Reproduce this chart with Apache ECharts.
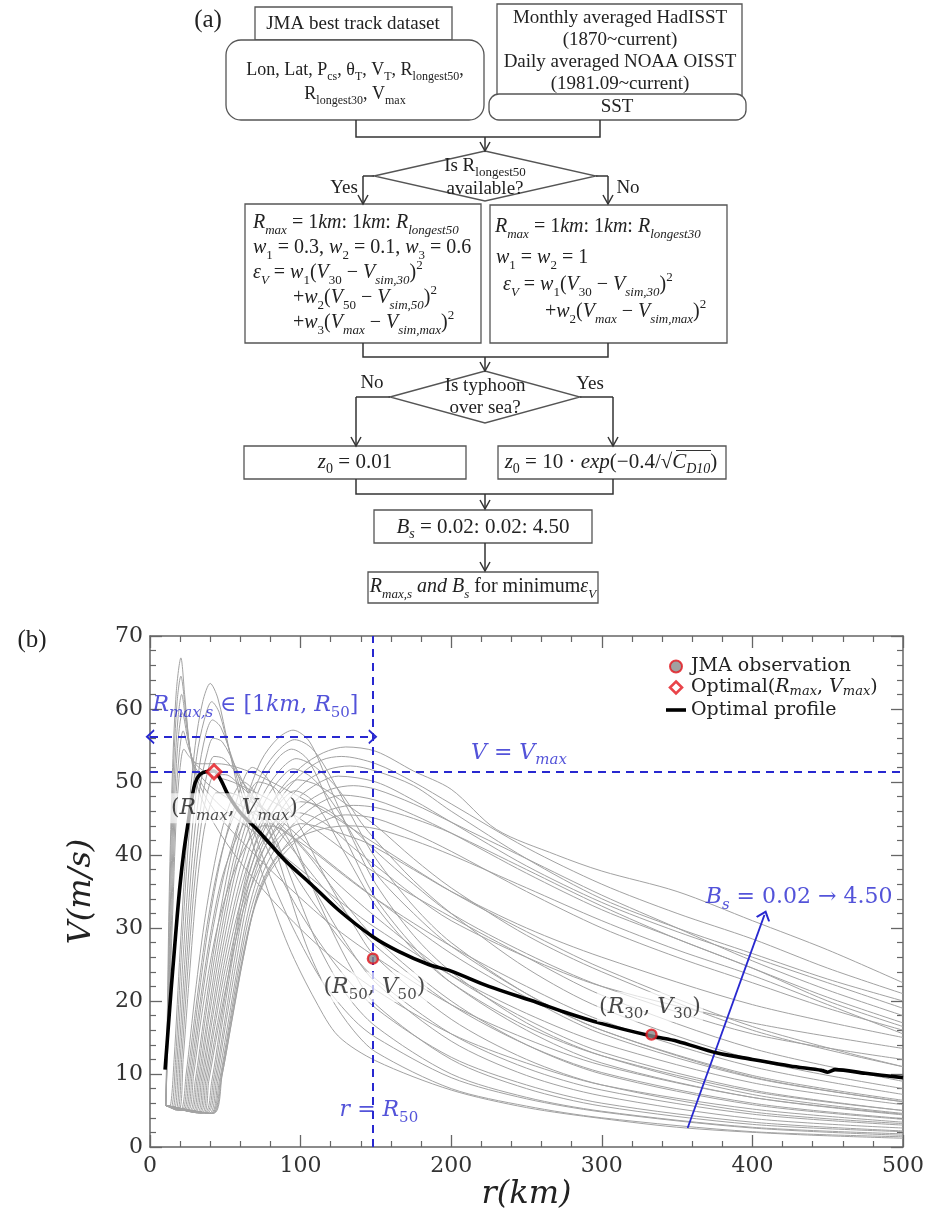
<!DOCTYPE html>
<html><head><meta charset="utf-8">
<script src="https://cdn.jsdelivr.net/npm/echarts@6/dist/echarts.min.js"></script>
<style>html,body{margin:0;padding:0;background:#fff}#c{width:927px;height:1214px}</style>
</head><body><div id="c"></div>
<script>
// ---------------- DATA ----------------
const rTicks = [0, 100, 200, 300, 400, 500];
const vTicks = [0, 10, 20, 30, 40, 50, 60, 70];

// Simulated profiles (r km, V m/s), grouped by Rmax family
const famA = [
 [[10.5,5.7],[11.5,18],[12.8,35],[15,52],[17.5,62.5],[20.5,67],[23,62],[26.5,54.5],[32,49],[42,44.5],[60,39],[85,33],[115,27],[150,21.5],[200,15.5],[250,11.5],[300,8.5],[400,5.2],[500,3.4]],
 [[10.5,5.7],[11.7,18],[13.1,34],[15.4,51],[18,61],[20.5,64.5],[23.5,60],[27,54],[33,49.5],[45,45.5],[65,41],[90,36],[120,30.5],[150,26],[200,19.5],[250,14.8],[300,11.2],[400,6.8],[500,4.5]],
 [[10.5,5.7],[11.9,18],[13.5,33],[16,50],[18.5,58.5],[21,62],[24,58],[28,53],[35,49.5],[48,46.5],[70,43],[100,38],[130,33],[150,30],[200,23.5],[250,18.3],[300,14.2],[400,8.8],[500,5.8]],
 [[10.5,5.7],[12.1,18],[13.9,32],[16.5,48.5],[19,56.5],[21.5,59.5],[24.5,56.5],[29,52.5],[37,50],[50,48],[75,45],[105,41],[130,37],[150,34],[200,27.5],[250,22],[300,17.3],[400,11],[500,7.2]],
 [[10.5,5.7],[12.3,18],[14.3,31],[17,47],[19.5,54],[22,57],[25,55],[30,52.5],[40,51],[55,50],[80,47.5],[110,43.5],[150,37.5],[200,31.5],[250,26],[300,20.8],[400,13.5],[500,9]],
 [[10.5,5.7],[12.5,18],[14.7,30],[17.5,45.5],[20,52],[22.5,54.5],[26,53.5],[32,52.5],[45,52.5],[65,51.5],[90,49],[120,45.5],[150,41.5],[200,35],[250,29.5],[300,24.5],[400,16.5],[500,11]]
];
const famB = [
 [[10.5,5.7],[13,5.5],[16,12],[20,27],[25,44],[30,55],[35,61],[40,63.5],[45,61.5],[52,55],[62,46],[76,36.5],[92,27.5],[110,20],[125,15.2],[150,11.8],[200,7.8],[250,5.4],[300,3.9],[356,2.6],[430,1.7],[500,1.2]],
 [[10.5,5.7],[14,5.4],[17,12],[21,27],[26,43],[31,53.5],[36,58.5],[41,61],[46,59.5],[53,54],[63,47],[78,38],[95,30],[115,22.5],[135,17.5],[150,15],[200,9.5],[250,6.6],[300,4.8],[400,2.6],[500,1.6]],
 [[10.5,5.7],[15,5.3],[18,12],[22,26],[27,41],[32,51],[37,56.5],[41.5,58.5],[47,57.5],[55,53],[66,46.5],[82,39],[100,32],[125,24.5],[150,19],[200,12.3],[250,8.5],[300,6],[400,3.4],[500,2.2]],
 [[10.5,5.7],[16,5.2],[19,12],[23,25],[28,39.5],[33,49],[38,54],[42,56],[48,55.5],[57,52],[70,46.5],[88,40],[110,33],[130,27.5],[150,23],[200,15.5],[250,10.8],[300,7.8],[400,4.5],[500,3]],
 [[10.5,5.7],[17,5.1],[20,12],[24,24.5],[29,38],[34,47],[39,52],[42.5,53.5],[49,53.2],[58,51],[72,47],[92,41.5],[115,35.5],[135,31],[150,27.5],[200,19.5],[250,14],[300,10.2],[400,6],[500,3.9]],
 [[10.5,5.7],[18,5],[21,12],[25,24],[30,37],[35,45.5],[40,50],[43,51],[50,51],[60,49.5],[75,46.5],[95,42.5],[120,37],[150,31.5],[200,23.5],[250,17.5],[300,13],[400,7.8],[500,5]],
 [[10.5,5.7],[19,5],[22,12],[26,23],[31,35.5],[36,43.5],[41,47.5],[44,48.5],[52,48.5],[65,47.5],[85,45],[110,40.5],[150,34],[200,26.5],[250,20.5],[300,15.5],[400,9.5],[500,6.2]]
];
const famM = [
 [[10.5,5.7],[20,5],[24,10],[30,21],[37,32],[45,41],[53,47],[62,50],[70,48.5],[80,43],[92,35],[105,27],[120,20.5],[135,16],[150,13],[200,8],[250,5.6],[300,4],[400,2.1],[500,1.4]],
 [[10.5,5.7],[21,5],[25,10],[31,20],[38,30.5],[46,39],[55,45],[65,48],[74,46.5],[85,41.5],[98,34.5],[112,27.5],[130,21],[150,16.5],[200,10],[250,6.8],[300,4.9],[400,2.7],[500,1.8]],
 [[10.5,5.7],[22,5],[26,10],[32,20],[39,30.5],[47,39.5],[56,46.5],[68,52],[78,50.5],[90,45],[105,37],[120,30],[135,24],[150,19.5],[200,12],[250,8],[300,5.6],[400,3.1],[500,2.1]],
 [[10.5,5.7],[23,5],[27,10],[33,19.5],[40,29],[48,37],[58,42.5],[70,46],[82,45],[95,41],[110,35],[130,28],[150,22.5],[200,14.5],[250,9.8],[300,7],[400,3.9],[500,2.6]],
 [[10.5,5.7],[24,5],[28,10],[34,19.5],[41,29],[50,38],[60,45],[72,50],[84,49],[98,44.5],[115,37.5],[135,30.5],[150,26],[200,17.5],[250,12],[300,8.5],[400,4.8],[500,3.2]],
 [[10.5,5.7],[25,5],[29,10],[35,19],[43,28.5],[52,35.5],[63,41],[75,44],[88,43.5],[105,40],[125,34.5],[150,28.5],[200,20],[250,14],[300,10],[400,5.8],[500,3.8]]
];
const famC = [
 [[10.5,5.7],[26,4.9],[30,9],[36,18],[44,29],[53,39],[63,47],[74,53],[85,56],[95,57.1],[106,55.5],[120,49],[135,42],[150,36],[175,29],[200,24],[250,17],[300,12.5],[400,7.2],[500,4.6]],
 [[10.5,5.7],[27,4.9],[31,9],[37,18],[45,28.5],[54,38],[64,46],[75,51.5],[86,54.5],[96,55.8],[108,54.5],[122,50],[136,44.5],[150,39.5],[175,33],[200,28],[250,21],[300,16],[400,9.8],[500,6.4]],
 [[10.5,5.7],[28,4.8],[32,9],[38,17.5],[46,28],[55,37.5],[65,45],[76,50.5],[86,53.5],[94,54.5],[105,53],[120,46.5],[135,40],[150,34],[175,27.5],[200,22.5],[250,16],[300,11.5],[400,6.8],[500,4.4]],
 [[10.5,5.7],[29,4.8],[33,9],[39,17.5],[47,27.5],[56,37],[66,44],[77,49],[88,52],[97,53.2],[110,52],[125,49],[140,44.5],[150,42],[175,36.5],[200,32],[250,24.5],[300,19],[400,12],[500,8]],
 [[10.5,5.7],[30,4.8],[34,9],[40,17],[48,27],[57,36],[67,43],[78,48],[88,50.8],[95,51.8],[108,50.5],[125,46],[150,37.5],[175,32],[200,27.5],[250,21],[300,16],[400,9.6],[500,6.2]],
 [[10.5,5.7],[31,4.7],[35,9],[41,17],[49,26.5],[58,35],[68,42],[79,46.5],[90,49.3],[98,50.3],[112,49.5],[130,47],[150,44],[175,39.5],[200,35.5],[250,29],[300,24],[400,16],[500,11]],
 [[10.5,5.7],[32,4.7],[36,9],[42,16.5],[50,26],[59,34.5],[69,41],[80,45.5],[90,48],[96,48.8],[110,47],[130,40],[150,33],[175,27],[200,22.5],[250,16.5],[300,12.5],[400,7.6],[500,5]],
 [[10.5,5.7],[33,4.7],[37,9],[43,16.5],[51,25.5],[60,33.5],[70,40],[81,44],[92,46.5],[100,47.3],[115,46.5],[135,43.5],[150,40.5],[175,36],[200,32],[250,26.5],[300,22],[400,15.5],[500,12]],
 [[10.5,5.7],[34,4.6],[38,9],[44,16],[52,25],[61,33],[71,39],[82,43],[92,45.2],[98,45.8],[115,44.5],[135,41],[150,38.5],[175,34.5],[200,31],[250,26],[300,22],[400,17],[500,13.5]],
 [[10.5,5.7],[35,4.6],[39,9],[45,16],[53,24.5],[62,32.5],[72,38],[83,41.8],[93,43.7],[100,44.3],[118,43.5],[140,42],[150,41],[175,38],[200,35],[250,30],[300,26],[400,19.5],[500,15]]
];
const famD = [
 [[10.5,5.7],[36,4.7],[41,9],[47,17],[54,26],[62,35.5],[72,43],[85,48.5],[100,52],[115,54],[130,54.8],[150,54.2],[175,51.5],[200,49],[230,43.5],[270,40],[300,37.8],[350,35],[400,31],[450,27],[500,22.5]],
 [[10.5,5.7],[37,4.7],[42,9],[48,17],[55,26],[63,35],[73,42],[86,47.5],[100,51],[114,53],[127,53.5],[150,52.5],[175,50],[200,47],[250,41],[300,36],[350,32],[400,28.5],[450,24.5],[500,21]],
 [[10.5,5.7],[38,4.7],[43,9],[49,16.5],[56,25.5],[64,34.5],[74,41],[88,46.5],[103,50],[118,51.7],[133,52.2],[150,51.5],[175,49.5],[200,46],[250,39.5],[300,34],[350,30],[400,26.5],[450,23],[500,20]],
 [[10.5,5.7],[39,4.6],[44,9],[50,16.5],[57,25],[65,34],[75,40.5],[89,45.5],[104,48.8],[125,50.8],[150,50],[175,47.5],[200,44.5],[250,38.5],[300,33.5],[350,29.5],[400,26],[450,22.5],[500,19]],
 [[10.5,5.7],[40,4.6],[45,9],[51,16],[58,24.5],[66,33],[76,39.5],[90,44.5],[106,47.5],[120,49],[135,49.5],[150,49],[175,47],[200,44.5],[250,39.5],[300,34.5],[350,30],[400,25.5],[450,21.5],[500,18]],
 [[10.5,5.7],[40.5,4.6],[46,9],[52,16],[59,24.5],[67,32.5],[77,38.5],[92,43.5],[110,46.8],[128,48.2],[150,47.5],[175,45.5],[200,43],[250,37.5],[300,32.5],[350,28.5],[400,24.5],[450,20.5],[500,17]],
 [[10.5,5.7],[41,4.6],[47,9.5],[53,16.5],[60,24.5],[68,32],[78,37.5],[93,42],[112,45.5],[135,46.8],[150,46.5],[175,45],[200,43],[250,38],[300,33],[350,28.5],[400,24.5],[450,20],[500,16.5]],
 [[10.5,5.7],[41.5,4.6],[47.5,9.5],[54,17],[61,25],[69,32.5],[79,37.5],[95,41.5],[112,44.3],[130,45.5],[150,45],[175,43],[200,40.5],[250,35],[300,30],[350,26],[400,22.5],[450,19],[500,16]],
 [[10.5,5.7],[42,4.6],[48,10],[55,18],[63,27],[72,35],[83,39.5],[98,42.3],[115,43.6],[132,44],[150,43.6],[175,42],[200,40],[250,35.5],[300,31],[350,27],[400,23.5],[450,19.5],[500,15.5]]
];

// Optimal profile
const profileR = [10,12,14,16,18,20,22.5,25,28,30,33,37,42.5,47,52,60,72,89.5,107,125,148,165,185,200,225,257,275,300,333,350,376,400,425,446,450,455,475,500];
const profileV = [10.6,16,21.5,26.5,31.5,36,40.5,44,48,49.9,51,51.4,51.5,50.3,48.2,45.8,43.3,39.3,36,32.5,28.8,26.8,25,24.1,22,19.8,18.5,16.9,15.2,14.5,12.9,12,11.1,10.5,10.25,10.6,10.1,9.5];

// JMA observations (R50,V50), (R30,V30)
const obsR = [148, 333];
const obsV = [25.8, 15.4];
// Optimal (Rmax, Vmax)
const optR = [42.5];
const optV = [51.4];

// Guides
const r50 = 148;
const vmaxLine = 51.4;
const rangeArrowV = 56.2;
const bsArrowR = [357, 408];
const bsArrowV = [2.6, 31.8];

// Annotations (text anchored at data coordinates)
const noteR = [70, 245, 56, 149, 332, 152, 431];
const noteV = [60.5, 54, 46.4, 21.9, 19.2, 5, 34.2];
const noteText = [
 '{bi|R}{bs|max,s}{b| ∈ [1}{bi|km}{b|, }{bi|R}{bn|50}{b|]}',
 '{bi|V}{b| = }{bi|V}{bs|max}',
 '{k|(}{ki|R}{ks|max}{k|, }{ki|V}{ks|max}{k|)}',
 '{k|(}{ki|R}{kn|50}{k|, }{ki|V}{kn|50}{k|)}',
 '{k|(}{ki|R}{kn|30}{k|, }{ki|V}{kn|30}{k|)}',
 '{bi|r}{b| = }{bi|R}{bn|50}',
 '{bi|B}{bs|s}{b| = 0.02 → 4.50}'
];
const noteBg = [false, false, true, true, true, false, false];

// ---------------- STYLE / LAYOUT ----------------
const FC = 'Liberation Serif';
const CH = 'DejaVu Serif';
const BLUE = '#2828d0';
const RED = '#e3141c';

function fcRich(size, color) {
  const sub = Math.round(size * 0.66);
  const lh = size + 8;
  const base = {fontFamily: FC, fontSize: size, lineHeight: lh, fill: color, color: color};
  return {
    n: Object.assign({}, base),
    i: Object.assign({}, base, {fontStyle: 'italic'}),
    s: {fontFamily: FC, fontSize: sub, lineHeight: sub - 2, verticalAlign: 'bottom', fontStyle: 'italic', fill: color, color: color},
    u: {fontFamily: FC, fontSize: sub, lineHeight: sub - 2, verticalAlign: 'bottom', fill: color, color: color},
    p: {fontFamily: FC, fontSize: sub, lineHeight: sub - 2, verticalAlign: 'top', fill: color, color: color}
  };
}

const G = [];
function box(x1, y1, x2, y2, r) {
  G.push({type: 'rect', z: 1, shape: {x: x1, y: y1, width: x2 - x1, height: y2 - y1, r: r || 0},
    style: {fill: '#fff', stroke: '#555', lineWidth: 1.3}});
}
function pl(pts, w) {
  G.push({type: 'polyline', z: 2, shape: {points: pts}, style: {stroke: '#333', lineWidth: w || 1.5, fill: null}});
}
function arrowDown(x, y1, y2) {
  pl([[x, y1], [x, y2]]);
  pl([[x - 5, y2 - 9], [x, y2], [x + 5, y2 - 9]]);
}
function diamond(cx, cy, hw, hh) {
  G.push({type: 'polygon', z: 1, shape: {points: [[cx - hw, cy], [cx, cy - hh], [cx + hw, cy], [cx, cy + hh]]},
    style: {fill: '#fff', stroke: '#555', lineWidth: 1.3}});
}
function txt(x, y, text, size, align) {
  const a = align || 'center';
  G.push({type: 'text', z: 5, x: x, y: y, style: {text: text, align: a, verticalAlign: 'middle', textAlign: a, textVerticalAlign: 'middle',
    fontFamily: FC, fontSize: size, lineHeight: size + 8, fill: '#222', rich: fcRich(size, '#222')}});
}

// ---- flowchart (a) ----
txt(208, 20, '(a)', 25);
box(255, 7, 452, 40);
txt(353, 24, 'JMA best track dataset', 19);
box(226, 40, 484, 120, 15);
txt(355, 70, 'Lon, Lat, P{u|cs}, θ{u|T}, V{u|T}, R{u|longest50},', 18);
txt(355, 94, 'R{u|longest30}, V{u|max}', 18);
box(497, 4, 742, 96);
txt(620, 18, 'Monthly averaged HadISST', 19);
txt(620, 40, '(1870~current)', 19);
txt(620, 62, 'Daily averaged NOAA OISST', 19);
txt(620, 84, '(1981.09~current)', 19);
box(489, 94, 746, 120, 10);
txt(617, 107, 'SST', 19);
pl([[356, 120], [356, 137], [600, 137], [600, 120]]);
arrowDown(485, 137, 151);
diamond(485, 176, 111, 25);
txt(485, 166, 'Is R{u|longest50}', 19);
txt(485, 189, 'available?', 19);
pl([[374, 176], [363, 176]]);
arrowDown(363, 176, 204);
pl([[596, 176], [608, 176]]);
arrowDown(608, 176, 204);
txt(344, 188, 'Yes', 19);
txt(628, 188, 'No', 19);
box(245, 204, 481, 343);
txt(253, 223, '{i|R}{s|max}{n| = 1}{i|km}{n|: 1}{i|km}{n|: }{i|R}{s|longest50}', 20, 'left');
txt(253, 248, '{i|w}{u|1}{n| = 0.3, }{i|w}{u|2}{n| = 0.1, }{i|w}{u|3}{n| = 0.6}', 20, 'left');
txt(253, 273, '{i|ε}{s|V}{n| = }{i|w}{u|1}{n|(}{i|V}{u|30}{n| − }{i|V}{s|sim,30}{n|)}{p|2}', 20, 'left');
txt(293, 298, '{n|+}{i|w}{u|2}{n|(}{i|V}{u|50}{n| − }{i|V}{s|sim,50}{n|)}{p|2}', 20, 'left');
txt(293, 323, '{n|+}{i|w}{u|3}{n|(}{i|V}{s|max}{n| − }{i|V}{s|sim,max}{n|)}{p|2}', 20, 'left');
box(490, 205, 727, 343);
txt(495, 227, '{i|R}{s|max}{n| = 1}{i|km}{n|: 1}{i|km}{n|: }{i|R}{s|longest30}', 20, 'left');
txt(496, 258, '{i|w}{u|1}{n| = }{i|w}{u|2}{n| = 1}', 20, 'left');
txt(503, 285, '{i|ε}{s|V}{n| = }{i|w}{u|1}{n|(}{i|V}{u|30}{n| − }{i|V}{s|sim,30}{n|)}{p|2}', 20, 'left');
txt(545, 312, '{n|+}{i|w}{u|2}{n|(}{i|V}{s|max}{n| − }{i|V}{s|sim,max}{n|)}{p|2}', 20, 'left');
pl([[363, 343], [363, 357], [608, 357], [608, 343]]);
arrowDown(485, 357, 371);
diamond(485, 397, 95, 26);
txt(485, 386, 'Is typhoon', 19);
txt(485, 408, 'over sea?', 19);
pl([[390, 397], [356, 397]]);
arrowDown(356, 397, 446);
pl([[580, 397], [613, 397]]);
arrowDown(613, 397, 446);
txt(372, 383, 'No', 19);
txt(590, 384, 'Yes', 19);
box(244, 446, 466, 479);
txt(355, 462, '{i|z}{u|0}{n| = 0.01}', 21);
box(498, 446, 726, 479);
txt(611, 462, '{i|z}{u|0}{n| = 10 · }{i|exp}{n|(−0.4/√}{i|C}{s|D10}{n|)}', 21);
pl([[676, 450.5], [711, 450.5]], 1);
pl([[356, 479], [356, 494], [613, 494], [613, 479]]);
arrowDown(485, 494, 509);
box(374, 510, 592, 543);
txt(483, 527, '{i|B}{s|s}{n| = 0.02: 0.02: 4.50}', 21);
arrowDown(485, 543, 571);
box(368, 572, 598, 603);
txt(483, 587, '{i|R}{s|max,s}{i| and B}{s|s}{n| for minimum}{i|ε}{s|V}', 20);
// ---- (b) label ----
txt(32, 640, '(b)', 25);

// ---------------- CHART (b) ----------------
function xAx(pos) {
  return {
    type: 'value', position: pos, gridIndex: 0,
    min: rTicks[0], max: rTicks[rTicks.length - 1], interval: rTicks[1] - rTicks[0],
    axisLine: {show: true, onZero: false, lineStyle: {color: '#666', width: 1.5}},
    axisTick: {show: true, inside: true, length: 12, lineStyle: {color: '#666', width: 1.3}},
    minorTick: {show: true, splitNumber: 5, length: 6, lineStyle: {color: '#666', width: 1.2}},
    splitLine: {show: false}, minorSplitLine: {show: false},
    axisLabel: {show: pos === 'bottom', fontFamily: CH, fontSize: 22, color: '#333', margin: 8},
    name: pos === 'bottom' ? 'r(km)' : '', nameLocation: 'middle', nameGap: 32,
    nameTextStyle: {fontFamily: CH, fontStyle: 'italic', fontSize: 32, color: '#222'}
  };
}
function yAx(pos) {
  return {
    type: 'value', position: pos, gridIndex: 0,
    min: vTicks[0], max: vTicks[vTicks.length - 1], interval: vTicks[1] - vTicks[0],
    axisLine: {show: true, onZero: false, lineStyle: {color: '#666', width: 1.5}},
    axisTick: {show: true, inside: true, length: 12, lineStyle: {color: '#666', width: 1.3}},
    minorTick: {show: true, splitNumber: 5, length: 6, lineStyle: {color: '#666', width: 1.2}},
    splitLine: {show: false}, minorSplitLine: {show: false},
    axisLabel: {show: pos === 'left', fontFamily: CH, fontSize: 22, color: '#333', margin: 7},
    name: pos === 'left' ? 'V(m/s)' : '', nameLocation: 'middle', nameGap: 52,
    nameTextStyle: {fontFamily: CH, fontStyle: 'italic', fontSize: 32, color: '#222'}
  };
}

const series = [];
[famA, famB, famM, famC, famD].forEach(function (fam) {
  fam.forEach(function (curve) {
    series.push({type: 'line', data: curve, smooth: 0.3, showSymbol: false, symbol: 'none',
      silent: true, z: 1, lineStyle: {color: '#a2a2a2', width: 1}});
  });
});

const CHEV = 'path://M0,10 L10,0 L20,10 L17.6,10.9 L10,3.6 L2.4,10.9 Z';
const dash = {color: BLUE, type: [8, 6], width: 2};
series.push({
  type: 'line', name: 'Optimal profile', z: 4, smooth: 0.3, showSymbol: false, symbol: 'none',
  data: profileR.map(function (r, i) { return [r, profileV[i]]; }),
  lineStyle: {color: '#000', width: 3.6}, itemStyle: {color: '#000'},
  markLine: {
    silent: true, symbol: ['none', 'none'], label: {show: false}, animation: false, z: 3,
    data: [
      {xAxis: r50, lineStyle: dash},
      {yAxis: vmaxLine, lineStyle: dash},
      [{coord: [rTicks[0], rangeArrowV], symbol: CHEV, symbolSize: [15, 9], lineStyle: dash},
       {coord: [r50, rangeArrowV], symbol: CHEV, symbolSize: [15, 9], lineStyle: dash}],
      [{coord: [bsArrowR[0], bsArrowV[0]], symbol: 'none', lineStyle: {color: BLUE, type: 'solid', width: 1.8}},
       {coord: [bsArrowR[1], bsArrowV[1]], symbol: CHEV, symbolSize: [15, 10], lineStyle: {color: BLUE, type: 'solid', width: 1.8}}]
    ]
  }
});
series.push({
  type: 'scatter', name: 'JMA observation', z: 6, symbol: 'circle', symbolSize: 10,
  data: obsR.map(function (r, i) { return [r, obsV[i]]; }),
  itemStyle: {color: '#8a8a8a', borderColor: RED, borderWidth: 2.4}
});
series.push({
  type: 'scatter', name: 'Optimal', z: 6, symbol: 'diamond', symbolSize: 14,
  data: optR.map(function (r, i) { return [r, optV[i]]; }),
  itemStyle: {color: '#fff', borderColor: RED, borderWidth: 3}
});

function noteRich() {
  const big = 22, sub = 15;
  function st(color, italic, isSub) {
    const o = {fontFamily: CH, fontSize: isSub ? sub : big, color: color, lineHeight: isSub ? sub - 2 : big + 8};
    if (italic) o.fontStyle = 'italic';
    if (isSub) o.verticalAlign = 'bottom';
    return o;
  }
  return {
    b: st(BLUE, false, false), bi: st(BLUE, true, false), bs: st(BLUE, true, true), bn: st(BLUE, false, true),
    k: st('#1a1a1a', false, false), ki: st('#1a1a1a', true, false), ks: st('#1a1a1a', true, true), kn: st('#1a1a1a', false, true)
  };
}
const NR = noteRich();
series.push({
  type: 'scatter', name: 'notes', z: 7, symbolSize: 0, silent: true,
  data: noteR.map(function (r, i) {
    return {
      value: [r, noteV[i]],
      label: {show: true, position: 'inside', formatter: noteText[i], rich: NR,
        backgroundColor: noteBg[i] ? 'rgba(255,255,255,0.85)' : 'transparent', padding: [0, 2, 0, 2]}
    };
  })
});

const legendRich = {
  l: {fontFamily: CH, fontSize: 19, color: '#222', lineHeight: 22},
  li: {fontFamily: CH, fontSize: 19, color: '#222', fontStyle: 'italic', lineHeight: 22},
  ls: {fontFamily: CH, fontSize: 13, color: '#222', fontStyle: 'italic', lineHeight: 11, verticalAlign: 'bottom'}
};
const DIA_ICON = 'path://M6,0 L12,6 L6,12 L0,6 Z';

const option = {
  animation: false,
  backgroundColor: '#fff',
  graphic: G,
  grid: {left: 150, top: 636, width: 754, height: 511},
  legend: {
    data: [
      {name: 'JMA observation', icon: 'circle'},
      {name: 'Optimal', icon: DIA_ICON, itemStyle: {color: '#fff', borderColor: RED, borderWidth: 2.6}},
      {name: 'Optimal profile', icon: 'path://M0,0 L20,0 L20,3.6 L0,3.6 Z', itemStyle: {color: '#000'}}
    ],
    orient: 'vertical', left: 661, top: 652, itemWidth: 20, itemHeight: 12, itemGap: 2,
    symbolKeepAspect: true,
    selectedMode: false,
    textStyle: {fontFamily: CH, fontSize: 19, color: '#222', rich: legendRich},
    formatter: function (name) {
      if (name === 'Optimal') return '{l|Optimal(}{li|R}{ls|max}{l|, }{li|V}{ls|max}{l|)}';
      return '{l|' + name + '}';
    }
  },
  xAxis: [xAx('bottom'), xAx('top')],
  yAxis: [yAx('left'), yAx('right')],
  series: series
};

const chart = echarts.init(document.getElementById('c'));
chart.setOption(option);
</script>
</body></html>
